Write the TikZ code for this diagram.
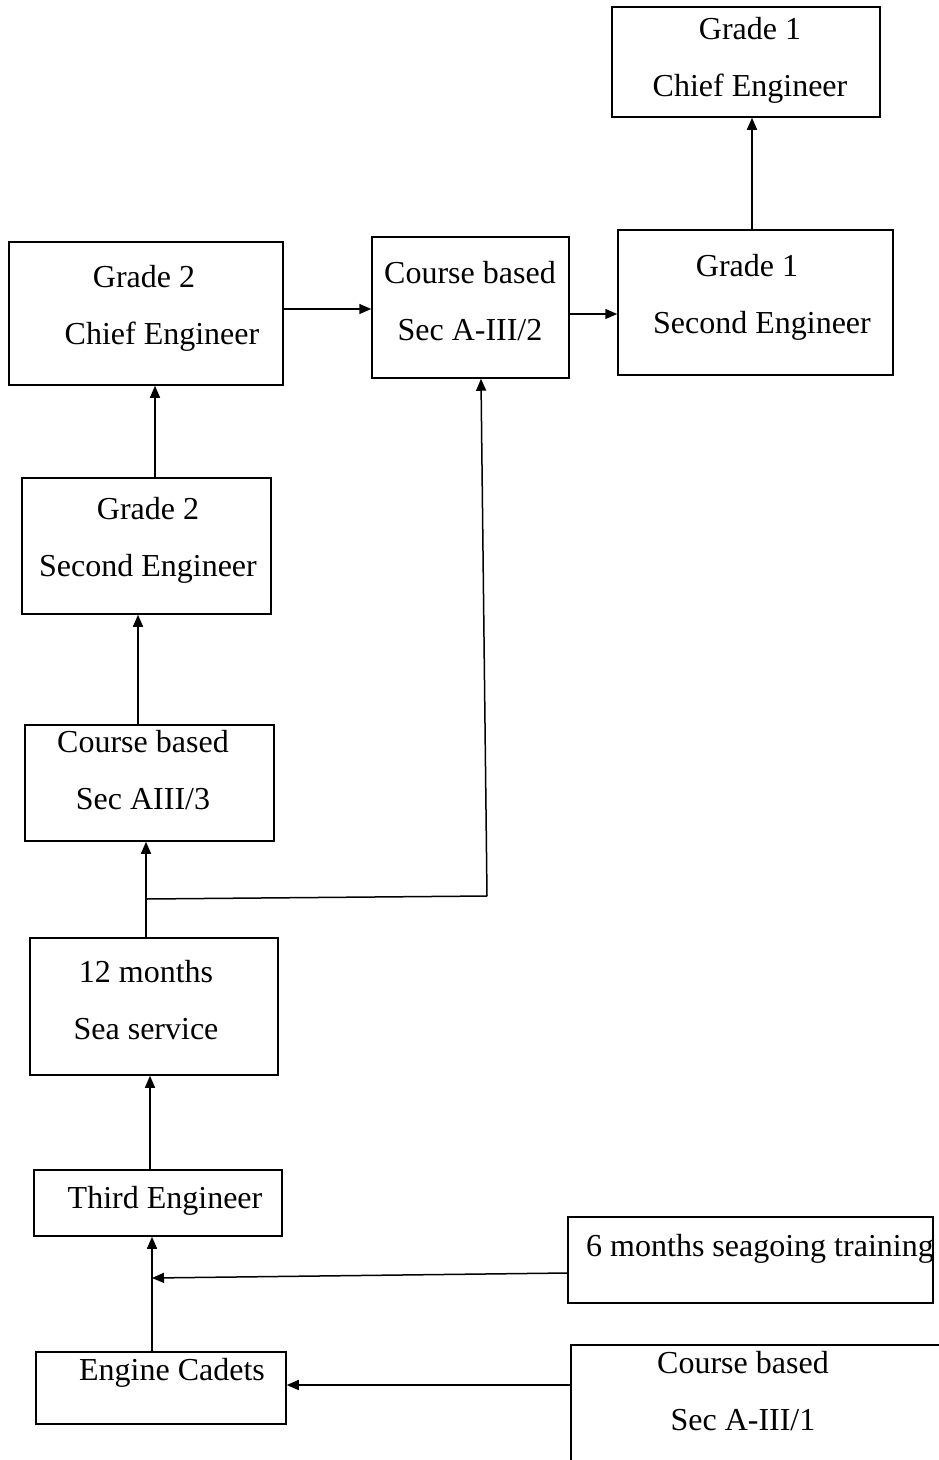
\documentclass[tikz,border=0pt]{standalone}
\usepackage{fontspec}
\setmainfont{Liberation Serif}
\usetikzlibrary{arrows.meta}
\begin{document}
\begin{tikzpicture}[x=1pt,y=-1pt,
  box/.style={draw,line width=1.5pt,inner sep=0pt},
  txt/.style={align=center,inner sep=0pt,font=\fontsize{32}{57}\selectfont},
  arr/.style={line width=1.5pt,-{Triangle[length=12pt,width=10pt]}},
  ln/.style={line width=1.5pt}]
\useasboundingbox (0,0) rectangle (938,1460);
\newcommand{\mybox}[5]{\node[box,minimum width=#3-#1,minimum height=#4-#2] (#5) at ({(#1+#3)/2},{(#2+#4)/2}) {};}
\mybox{612}{7}{880}{117}{gice}
\mybox{9}{242}{283}{385}{giice}
\mybox{372}{237}{569}{378}{aiiitwo}
\mybox{618}{230}{893}{375}{gise}
\mybox{22}{478}{271}{614}{giise}
\mybox{25}{725}{274}{841}{aiiithree}
\mybox{30}{938}{278}{1075}{sea}
\mybox{34}{1170}{282}{1236}{third}
\mybox{568}{1217}{933}{1303}{six}
\mybox{36}{1352}{286}{1424}{cadets}
\mybox{571}{1345}{950}{1475}{aiiione}
% texts
\node[txt] (gice-t) at (750,60) {Grade 1\\Chief Engineer};
\node[txt] (giice-t) at (144,308) {Grade 2\\\hspace*{36pt}Chief Engineer};
\node[txt] (aiiitwo-t) at (470,301) {Course based\\Sec A-III/2};
\node[txt] (gise-t) at (747,297) {Grade 1\\\hspace*{30pt}Second Engineer};
\node[txt] (giise-t) at (148,540) {Grade 2\\Second Engineer};
\node[txt] (aiiithree-t) at (143,770) {Course based\\Sec AIII/3};
\node[txt] (sea-t) at (146,1000) {12 months\\Sea service};
\node[txt] (third-t) at (165,1201) {Third Engineer};
\node[txt] (six-t) at (760,1249) {6 months seagoing training};
\node[txt] (cadets-t) at (172,1373) {Engine Cadets};
\node[txt] (aiiione-t) at (743,1391) {Course based\\Sec A-III/1};
% connectors
\coordinate (j1) at (146,899);
\coordinate (j2) at (487,896);
\coordinate (j3) at (152,1278);
\draw[arr] (gise.north -| 752,0) -- (gice.south -| 752,0);
\draw[arr] (giice.east |- 0,309) -- (aiiitwo.west |- 0,309);
\draw[arr] (aiiitwo.east |- 0,314) -- (gise.west |- 0,314);
\draw[arr] (giise.north -| 155,0) -- (giice.south -| 155,0);
\draw[arr] (aiiithree.north -| 138,0) -- (giise.south -| 138,0);
\draw[arr] (sea.north -| 146,0) -- (aiiithree.south -| 146,0);
\draw[ln] (j1) -- (j2);
\draw[arr] (j2) -- (aiiitwo.south -| 481,0);
\draw[arr] (third.north -| 150,0) -- (sea.south -| 150,0);
\draw[arr] (cadets.north -| 152,0) -- (third.south -| 152,0);
\draw[arr] (six.west |- 0,1273) -- (j3);
\draw[arr] (aiiione.west |- 0,1385) -- (cadets.east |- 0,1385);
\end{tikzpicture}
\end{document}
